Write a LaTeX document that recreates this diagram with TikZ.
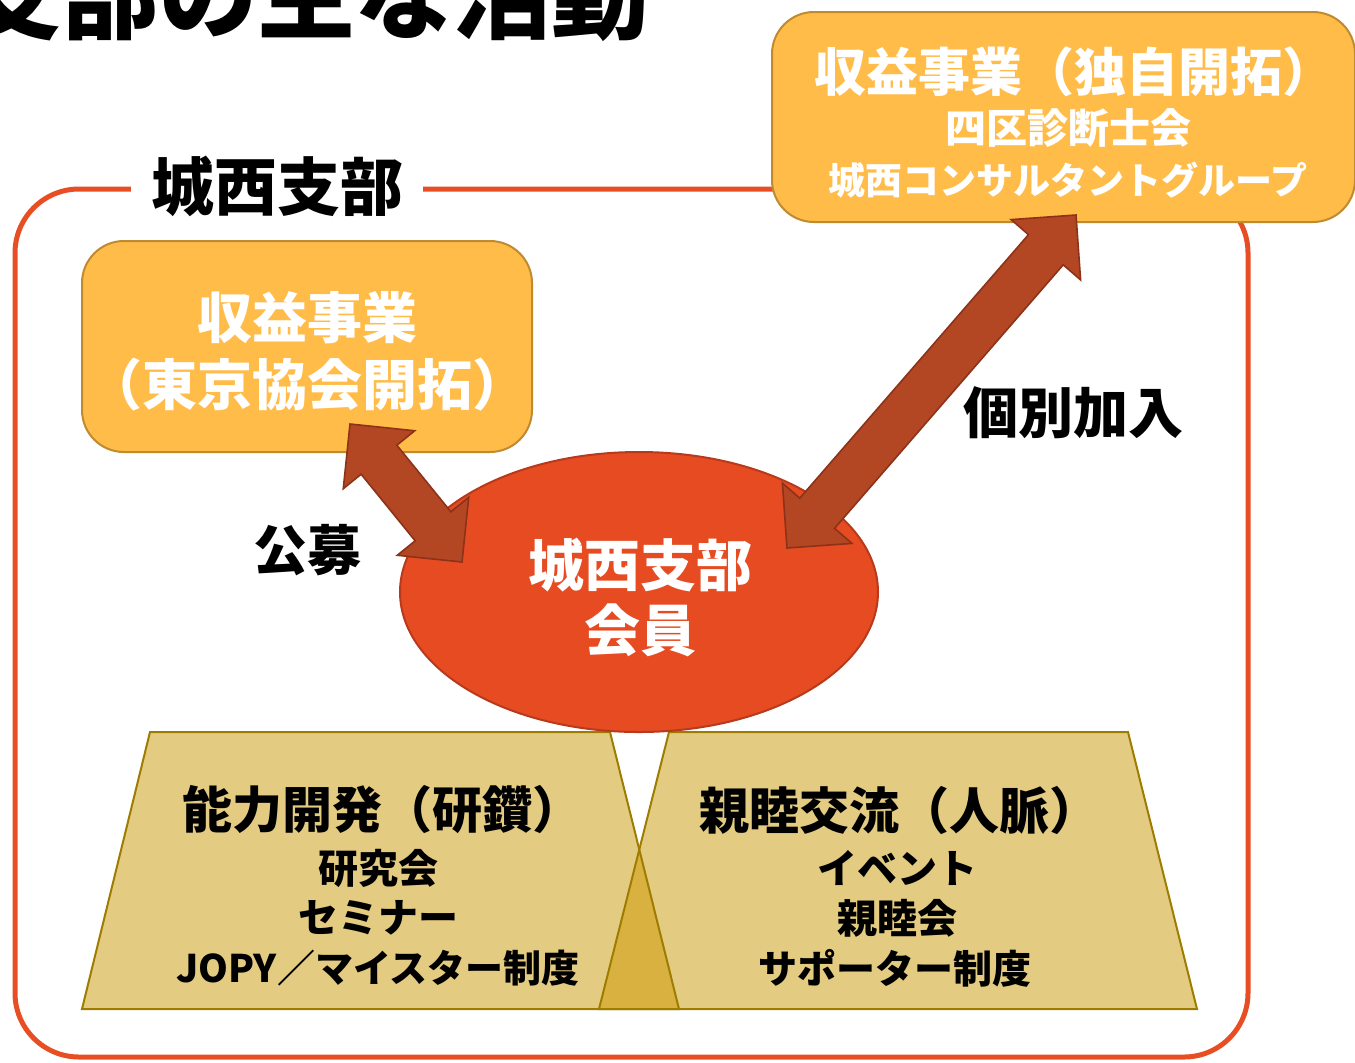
\documentclass[tikz,border=0pt]{standalone}
\usepackage{fontspec}
\setmainfont{Noto Sans CJK JP}
\usetikzlibrary{calc}
\definecolor{frameline}{HTML}{E84E24}
\definecolor{boxfill}{HTML}{FFBC48}
\definecolor{boxedge}{HTML}{C08A30}
\definecolor{memberfill}{HTML}{E64B22}
\definecolor{memberedge}{HTML}{B83A1C}
\definecolor{arrowfill}{HTML}{B34724}
\definecolor{arrowedge}{HTML}{8C3218}
\definecolor{trapfill}{HTML}{E4CB82}
\definecolor{trapedge}{HTML}{9E7C00}
\definecolor{trapdark}{HTML}{D8B140}
\newcommand\fsz[1]{\fontsize{#1}{#1}\selectfont\bfseries}
\newcommand\ahead{23pt}
\newcommand\awide{23pt}
\newcommand\ashaft{11.5pt}
\newcommand\blockarrow[2]{%
  \coordinate (#1-#2-p) at ($(#1)!\ahead!(#2)$);
  \coordinate (#1-#2-q) at ($(#2)!\ahead!(#1)$);
  \draw[fatarrow] (#1)
    -- ($(#1-#2-p)!\awide!90:(#2)$)
    -- ($(#1-#2-p)!\ashaft!90:(#2)$)
    -- ($(#1-#2-q)!\ashaft!90:(#2)$)
    -- ($(#1-#2-q)!\awide!90:(#2)$)
    -- (#2)
    -- ($(#1-#2-q)!\awide!-90:(#2)$)
    -- ($(#1-#2-q)!\ashaft!-90:(#2)$)
    -- ($(#1-#2-p)!\ashaft!-90:(#2)$)
    -- ($(#1-#2-p)!\awide!-90:(#2)$)
    -- cycle;}

\begin{document}
\begin{tikzpicture}[x=0.5pt,y=-0.5pt,
    shuekibox/.style={draw=boxedge,fill=boxfill,line width=1pt,rounded corners=21pt},
    fatarrow/.style={draw=arrowedge,fill=arrowfill,line width=0.8pt,line join=miter},
    whitetext/.style={text=white,inner sep=0pt},
    blacktext/.style={text=black,inner sep=0pt},
    trap/.style={fill=trapfill},
    trapline/.style={draw=trapedge,line width=1pt,line join=miter}]
  \useasboundingbox (0,0) rectangle (1355,1062);

  % heading, cut off by the page edge
  \node[blacktext,anchor=east,font=\fsz{49pt}] (heading) at (650,-6) {支部の主な活動};

  % branch frame
  \draw[frameline,line width=2.5pt,rounded corners=32pt] (15,189) rectangle (1248,1057);
  \node[blacktext,fill=white,inner xsep=10pt,font=\fsz{31.5pt}] (branch) at (277,186) {城西支部};

  % income boxes
  \draw[shuekibox] (82,241) rectangle (532,452);
  \node[whitetext,font=\fsz{27.5pt}] (tokyo1) at (307,318) {収益事業};
  \node[whitetext,font=\fsz{27.5pt}] (tokyo2) at (307,385) {（東京協会開拓）};

  \draw[shuekibox] (772,12) rectangle (1355,222);
  \node[whitetext,font=\fsz{26pt}] (own1) at (1074,72) {収益事業（独自開拓）};
  \node[whitetext,font=\fsz{20.5pt}] (own2) at (1068,128) {四区診断士会};
  \node[whitetext,font=\fsz{18.5pt}] (own3) at (1068,180) {城西コンサルタントグループ};

  % activities
  \path[trap] (150,732) -- (610,732) -- (679,1009) -- (82,1009) -- cycle;
  \path[trap] (669,732) -- (1128,732) -- (1197,1009) -- (599,1009) -- cycle;
  \path[fill=trapdark] (639,850) -- (679,1009) -- (599,1009) -- cycle;
  \draw[trapline] (150,732) -- (610,732) -- (679,1009) -- (82,1009) -- cycle;
  \draw[trapline] (669,732) -- (1128,732) -- (1197,1009) -- (599,1009) -- cycle;

  \node[blacktext,font=\fsz{25pt}] (kensan) at (382,810) {能力開発（研鑽）};
  \node[blacktext,font=\fsz{20pt}] (ken1) at (378,868) {研究会};
  \node[blacktext,font=\fsz{20pt}] (ken2) at (378,918) {セミナー};
  \node[blacktext,font=\fsz{19pt}] (ken3) at (378,968) {JOPY／マイスター制度};

  \node[blacktext,font=\fsz{25pt}] (jinmyaku) at (899,810) {親睦交流（人脈）};
  \node[blacktext,font=\fsz{20pt}] (shin1) at (897,868) {イベント};
  \node[blacktext,font=\fsz{20pt}] (shin2) at (897,918) {親睦会};
  \node[blacktext,font=\fsz{19.5pt}] (shin3) at (895,968) {サポーター制度};

  % members
  \draw[draw=memberedge,fill=memberfill,line width=1pt] (639,592) ellipse [x radius=239,y radius=140];
  \node[whitetext,font=\fsz{28pt}] (member1) at (640,565) {城西支部};
  \node[whitetext,font=\fsz{28pt}] (member2) at (640,630) {会員};

  % arrows
  \coordinate (kobo-a) at (350,424);
  \coordinate (kobo-b) at (462,562);
  \coordinate (kobetsu-a) at (1076,215);
  \coordinate (kobetsu-b) at (787,548);
  \blockarrow{kobo-a}{kobo-b}
  \blockarrow{kobetsu-a}{kobetsu-b}

  \node[blacktext,font=\fsz{27pt}] (kobo) at (307,550) {公募};
  \node[blacktext,font=\fsz{27.5pt}] (kobetsu) at (1073,413) {個別加入};
\end{tikzpicture}
\end{document}
